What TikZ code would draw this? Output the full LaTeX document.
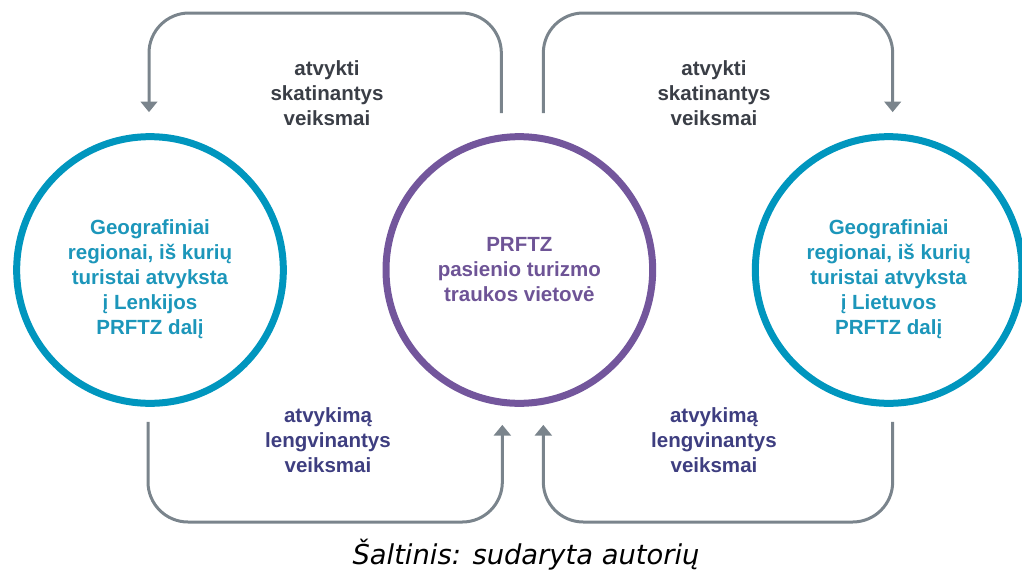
\documentclass[tikz,border=0pt]{standalone}
\usepackage{fontspec}
\setmainfont{Liberation Sans}
\newfontfamily\captionfont{DejaVu Sans}
\usetikzlibrary{positioning,calc,arrows.meta}

\definecolor{regionblue}{RGB}{0,150,190}
\definecolor{regiontext}{RGB}{28,150,186}
\definecolor{attrpurple}{RGB}{115,86,156}
\definecolor{attrtext}{RGB}{110,84,150}
\definecolor{flowgray}{RGB}{122,132,140}
\definecolor{pulltext}{RGB}{58,62,70}
\definecolor{pushtext}{RGB}{62,62,128}

\begin{document}
\begin{tikzpicture}[x=0.75pt,y=-0.75pt,on grid,node distance=277pt,
>={Triangle[width=12.5pt,length=8pt]},
ring/.style={circle,line width=5.25pt,minimum size=200pt,align=center,inner sep=0pt,
    font=\bfseries\fontsize{15.4}{18.75}\selectfont},
region/.style={ring,draw=regionblue,text=regiontext},
attraction/.style={ring,draw=attrpurple,text=attrtext},
flow/.style={->,draw=flowgray,line width=2.25pt,rounded corners=30pt},
pull/.style={align=center,text=pulltext,
    font=\bfseries\fontsize{15.4}{18.75}\selectfont},
push/.style={pull,text=pushtext}
    ]
\useasboundingbox (0,0) rectangle (1022,579);

\node[region] (Lenkija) at (150,270) {\rule{0pt}{24.6pt}Geografiniai\\regionai, iš kurių\\turistai atvyksta\\į Lenkijos\\PRFTZ dalį};
\node[attraction] (PRFTZ) [right=of Lenkija] {PRFTZ\\pasienio turizmo\\traukos vietovė};
\node[region] (Lietuva) [right=of PRFTZ] {\rule{0pt}{24.6pt}Geografiniai\\regionai, iš kurių\\turistai atvyksta\\į Lietuvos\\PRFTZ dalį};

\coordinate (topY) at (0,13);
\coordinate (botY) at (0,522);
\coordinate (tlStart) at ($(PRFTZ.north)+(-18,-20)$);
\coordinate (tlEnd) at ($(Lenkija.north)+(-1,-21)$);
\coordinate (trStart) at ($(PRFTZ.north)+(24,-20)$);
\coordinate (trEnd) at ($(Lietuva.north)+(4,-21)$);
\coordinate (blStart) at ($(Lenkija.south)+(-2,15)$);
\coordinate (blEnd) at ($(PRFTZ.south)+(-17,18)$);
\coordinate (brStart) at ($(Lietuva.south)+(4,15)$);
\coordinate (brEnd) at ($(PRFTZ.south)+(24,18)$);

\draw[flow] (tlStart) -- (tlStart |- topY) -| (tlEnd);
\draw[flow] (trStart) -- (trStart |- topY) -| (trEnd);
\draw[flow] (blStart) -- (blStart |- botY) -| (blEnd);
\draw[flow] (brStart) -- (brStart |- botY) -| (brEnd);

\node[pull] (pullL) at (327,93) {atvykti\\skatinantys\\veiksmai};
\node[pull] (pullR) at (714,93) {atvykti\\skatinantys\\veiksmai};
\node[push] (pushL) at (328,440) {atvykimą\\lengvinantys\\veiksmai};
\node[push] (pushR) at (714,440) {atvykimą\\lengvinantys\\veiksmai};

\node[font=\captionfont\itshape\fontsize{20.5}{24}\selectfont] (source) at (526,555) {Šaltinis: sudaryta autorių};
\end{tikzpicture}
\end{document}
